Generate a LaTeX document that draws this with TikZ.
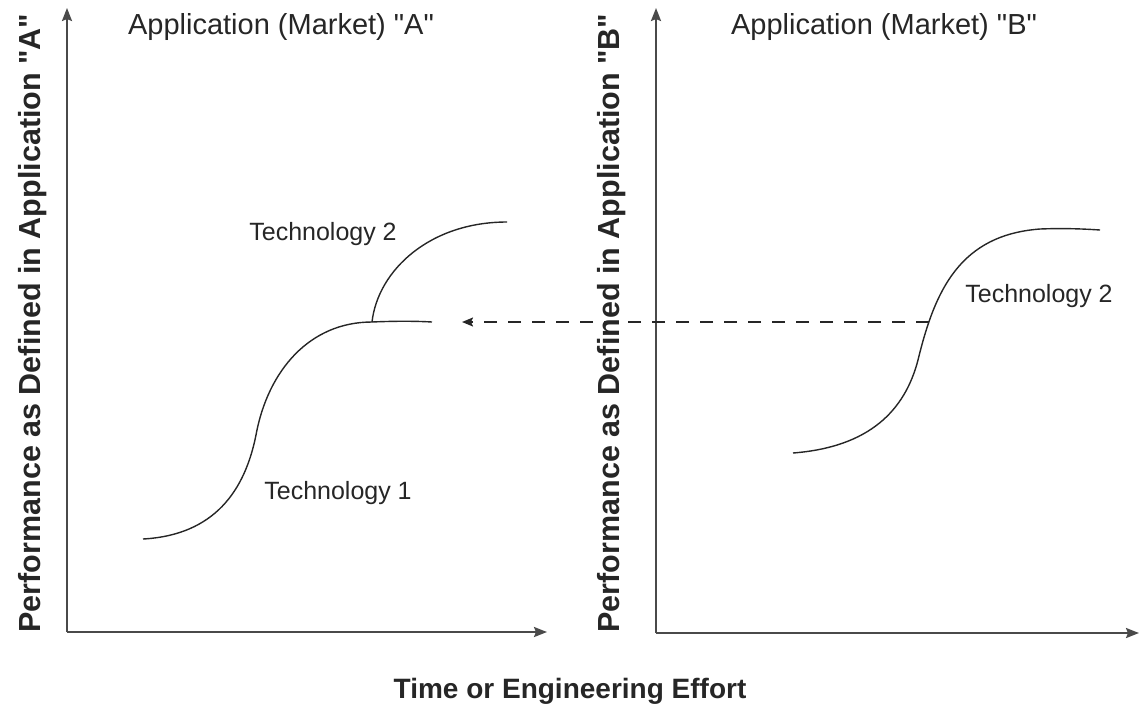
\documentclass[tikz,border=0pt]{standalone}
\usepackage{fontspec}
\setmainfont{Liberation Sans}
\usetikzlibrary{arrows.meta}
\definecolor{ink}{HTML}{262626}
\definecolor{axisgray}{HTML}{4A4A4A}
\newcommand{\qq}{\XeTeXglyph\XeTeXcharglyph34\relax}
\begin{document}
\begin{tikzpicture}[x=1pt,y=-1pt,
  axisline/.style={draw=axisgray,line width=2.2pt,-{Stealth[length=13pt,width=10pt,inset=2pt]}},
  curveline/.style={draw=ink,line width=1.4pt},
  dashline/.style={draw=ink,line width=1.6pt,dash pattern=on 13pt off 11pt,-{Stealth[length=11pt,width=9pt,inset=2pt]}},
  titletext/.style={text=ink,font=\fontsize{29}{32}\selectfont,inner sep=0pt},
  axistext/.style={text=ink,font=\bfseries\fontsize{28}{32}\selectfont,inner sep=0pt},
  ylabtext/.style={text=ink,font=\bfseries\fontsize{30.5}{34}\selectfont,inner sep=0pt,rotate=90},
  techtext/.style={text=ink,font=\fontsize{25}{28}\selectfont,inner sep=0pt}]
\useasboundingbox (0,0) rectangle (1139,713);
% axes
\coordinate (oA) at (67,632);
\coordinate (yA) at (67,8);
\coordinate (xA) at (547,632);
\coordinate (oB) at (656,633);
\coordinate (yB) at (656,8);
\coordinate (xB) at (1139,633);
\draw[axisline] (oA) -- (yA);
\draw[axisline] (oA) -- (xA);
\draw[axisline] (oB) -- (yB);
\draw[axisline] (oB) -- (xB);
% titles
\node[titletext] (tA) at (281,27) {Application (Market) \qq A\qq};
\node[titletext] (tB) at (884,27) {Application (Market) \qq B\qq};
\node[ylabtext] (lA) at (33,323) {Performance as Defined in Application \qq A\qq};
\node[ylabtext] (lB) at (612,323) {Performance as Defined in Application \qq B\qq};
\node[axistext] (lx) at (570,691) {Time or Engineering Effort};
% curves in A
\coordinate (t1s) at (143,539);
\coordinate (jn) at (372,322);
\coordinate (t1e) at (432,322);
\coordinate (t2e) at (507,222);
\draw[curveline] (t1s) .. controls (215,535) and (245,490) .. (256,435)
  .. controls (268,370) and (310,322) .. (jn)
  .. controls (395,321) and (415,321) .. (t1e);
\draw[curveline] (jn) .. controls (378,270) and (430,222) .. (t2e);
\node[techtext] (t2A) at (323,234) {Technology 2};
\node[techtext] (t1A) at (338,493) {Technology 1};
% curve in B
\coordinate (bs) at (793,453);
\coordinate (bm) at (918,360);
\coordinate (be) at (1100,230);
\draw[curveline] (bs) .. controls (870,447) and (905,410) .. (bm)
  .. controls (935,290) and (960,235) .. (1040,229)
  .. controls (1065,228) and (1085,229) .. (be);
\node[techtext] (t2B) at (1039,296) {Technology 2};
% dashed arrow
\coordinate (ds) at (929,322);
\coordinate (de) at (462,322);
\draw[dashline] (ds) -- (de);
\end{tikzpicture}
\end{document}
